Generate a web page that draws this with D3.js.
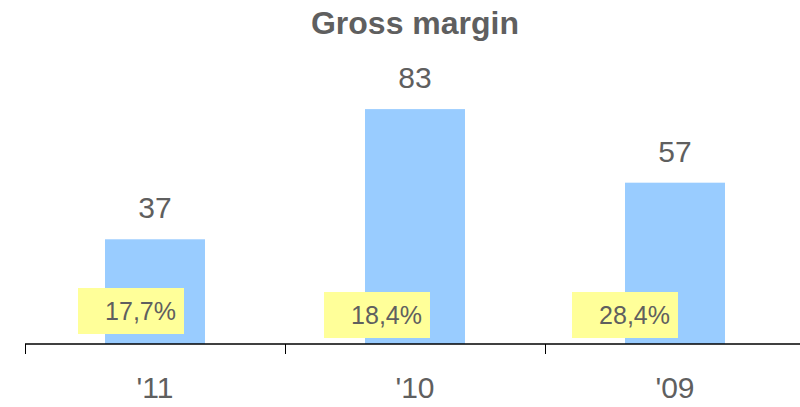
<!DOCTYPE html>
<html>
<head>
<meta charset="utf-8">
<script src="https://cdn.jsdelivr.net/npm/d3@7"></script>
<style>
  html, body { margin: 0; padding: 0; background: #fff; }
  svg { display: block; font-family: "Liberation Sans", Arial, sans-serif; }
</style>
</head>
<body>
<div id="chart"></div>
<script>
// Data
const categories = ["'11", "'10", "'09"];
const values = [37, 83, 57];
const marginLabels = ["17,7%", "18,4%", "28,4%"];
const title = "Gross margin";

// Layout
const W = 800, H = 407;
const baseY = 344;
const labelDx = [53, 39, 27];   // yellow box offset from band start
const labelY = [288, 292, 292]; // yellow box top
const boxW = 106, boxH = 46;

const svg = d3.select("#chart").append("svg").attr("width", W).attr("height", H);

const x = d3.scaleBand().domain(categories).range([25, 805]).padding(0);
const y = d3.scaleLinear().domain([0, 100]).range([baseY, 61]);
const barW = 100;
const grey = "#5f5f5f";

// Title
svg.append("text")
  .attr("x", 415).attr("y", 34)
  .attr("text-anchor", "middle")
  .attr("font-size", 32).attr("font-weight", "bold")
  .attr("fill", grey)
  .text(title);

// Bars
svg.selectAll("rect.bar").data(categories).enter().append("rect")
  .attr("class", "bar")
  .attr("x", d => x(d) + (x.bandwidth() - barW) / 2)
  .attr("width", barW)
  .attr("y", (d, i) => y(values[i]))
  .attr("height", (d, i) => y(0) - y(values[i]))
  .attr("fill", "#99ccff");

// Value labels
svg.selectAll("text.val").data(categories).enter().append("text")
  .attr("class", "val")
  .attr("x", d => x(d) + x.bandwidth() / 2)
  .attr("y", (d, i) => y(values[i]) - 21)
  .attr("text-anchor", "middle")
  .attr("font-size", 30)
  .attr("fill", grey)
  .text((d, i) => values[i]);

// Margin labels (yellow boxes)
const lbl = svg.selectAll("g.lbl").data(categories).enter().append("g").attr("class", "lbl");
lbl.append("rect")
  .attr("x", (d, i) => x(d) + labelDx[i])
  .attr("y", (d, i) => labelY[i])
  .attr("width", boxW).attr("height", boxH)
  .attr("fill", "#ffff99");
lbl.append("text")
  .attr("x", (d, i) => x(d) + labelDx[i] + boxW - 8)
  .attr("y", (d, i) => labelY[i] + 32)
  .attr("text-anchor", "end")
  .attr("font-size", 25)
  .attr("fill", grey)
  .text((d, i) => marginLabels[i]);

// Axis
const axisG = svg.append("g");
axisG.append("line")
  .attr("x1", 25).attr("x2", 800)
  .attr("y1", baseY).attr("y2", baseY)
  .attr("stroke", "#000").attr("stroke-width", 1.5);
axisG.selectAll("line.tick").data(categories).enter().append("line")
  .attr("class", "tick")
  .attr("x1", d => x(d) + 0.5).attr("x2", d => x(d) + 0.5)
  .attr("y1", baseY).attr("y2", baseY + 10)
  .attr("stroke", "#000").attr("stroke-width", 1);
axisG.selectAll("text.cat").data(categories).enter().append("text")
  .attr("class", "cat")
  .attr("x", d => x(d) + x.bandwidth() / 2)
  .attr("y", 398)
  .attr("text-anchor", "middle")
  .attr("font-size", 30)
  .attr("fill", grey)
  .text(d => d);
</script>
</body>
</html>
